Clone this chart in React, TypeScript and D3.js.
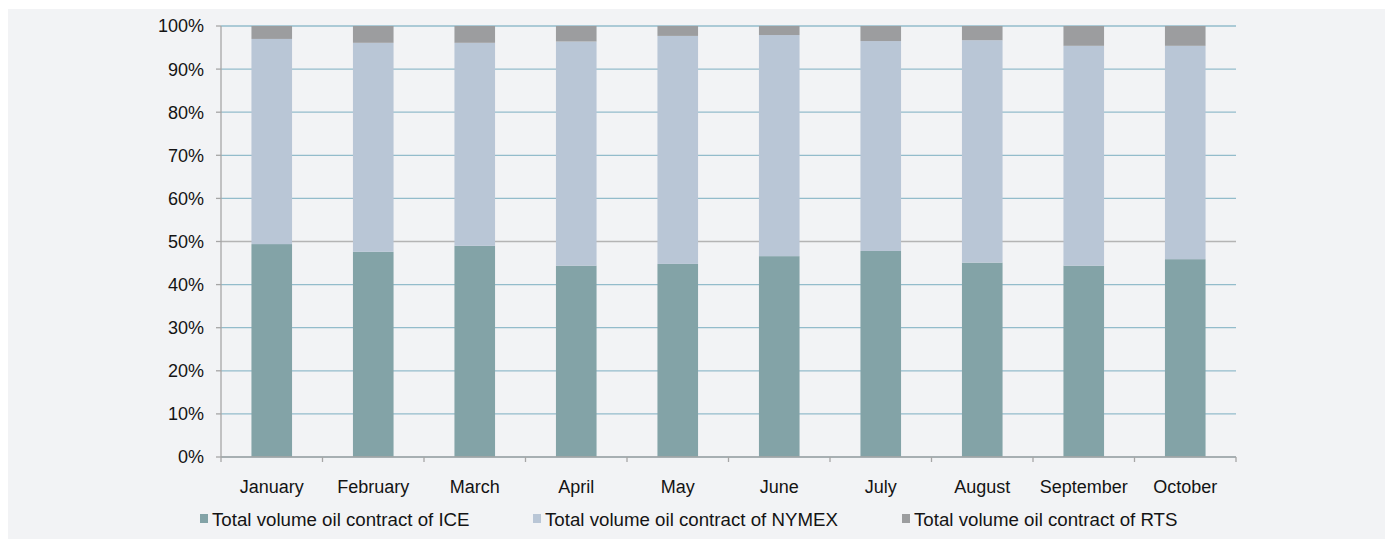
import React from "react";
import * as d3 from "d3";

const categories = ["January", "February", "March", "April", "May", "June", "July", "August", "September", "October"];
const iceValues = [49.4, 47.6, 49.0, 44.4, 44.8, 46.6, 47.8, 45.1, 44.4, 45.9];
const nymexValues = [47.6, 48.5, 47.1, 52.0, 52.9, 51.3, 48.7, 51.6, 51.0, 49.5];
const rtsValues = [3.0, 3.9, 3.9, 3.6, 2.3, 2.1, 3.5, 3.3, 4.6, 4.6];
const yTicks = [0, 10, 20, 30, 40, 50, 60, 70, 80, 90, 100];
const seriesNames = [
  "Total volume oil contract of ICE",
  "Total volume oil contract of NYMEX",
  "Total volume oil contract of RTS",
];
const seriesColors = ["#83a3a7", "#b9c6d6", "#9c9d9f"];

const W = 1389;
const H = 539;
const left = 221;
const right = 1236;
const top = 26;
const bottom = 457;
const FONT = "'Liberation Sans', Arial, sans-serif";

export default function App() {
  const x = d3.scaleBand<string>().domain(categories).range([left, right]).padding(0);
  const y = d3.scaleLinear().domain([0, 100]).range([bottom, top]);
  const barW = x.bandwidth() * 0.4;

  const rows = categories.map((c, i) => ({ c, ice: iceValues[i], nymex: nymexValues[i], rts: rtsValues[i] }));
  const stack = d3.stack<any>().keys(["ice", "nymex", "rts"]);
  const stacked = stack(rows);

  const legendX = [200, 533, 902];

  return (
    <div style={{ position: "absolute", left: 0, top: 0 }}>
      <svg width={W} height={H} style={{ display: "block" }}>
        <rect x={0} y={0} width={W} height={H} fill="#ffffff" />
        <rect x={8} y={9} width={1377} height={530} fill="#f2f3f5" />
        {yTicks.map((t) => (
          <line
            key={"g" + t}
            x1={left}
            x2={right}
            y1={y(t)}
            y2={y(t)}
            stroke={t === 50 ? "#b4b4b4" : "#93bccb"}
            strokeWidth={1.3}
          />
        ))}
        {stacked.map((s, si) =>
          s.map((d, i) => (
            <rect
              key={si + "-" + i}
              x={(x(categories[i]) as number) + (x.bandwidth() - barW) / 2}
              y={y(Math.min(d[1], 100))}
              width={barW}
              height={y(d[0]) - y(Math.min(d[1], 100))}
              fill={seriesColors[si]}
            />
          ))
        )}
        {/* left axis */}
        <line x1={left} x2={left} y1={top} y2={bottom} stroke="#a6a6a6" strokeWidth={1.3} />
        {yTicks.map((t) => (
          <g key={"yt" + t}>
            <line x1={left - 5} x2={left} y1={y(t)} y2={y(t)} stroke="#a6a6a6" strokeWidth={1.3} />
            <text
              x={204}
              y={y(t)}
              dy="0.36em"
              textAnchor="end"
              fontFamily={FONT}
              fontSize={18}
              fill="#141414"
            >
              {t + "%"}
            </text>
          </g>
        ))}
        {/* bottom axis */}
        <line x1={left} x2={right} y1={bottom} y2={bottom} stroke="#a6a6a6" strokeWidth={1.3} />
        {categories.concat(["__end"]).map((c, i) => {
          const xx = i < categories.length ? (x(c) as number) : right;
          return <line key={"xt" + i} x1={xx} x2={xx} y1={bottom} y2={bottom + 5} stroke="#a6a6a6" strokeWidth={1.3} />;
        })}
        {categories.map((c) => (
          <text
            key={"xl" + c}
            x={(x(c) as number) + x.bandwidth() / 2}
            y={493}
            textAnchor="middle"
            fontFamily={FONT}
            fontSize={18}
            fill="#141414"
          >
            {c}
          </text>
        ))}
        {/* legend */}
        {seriesNames.map((n, i) => (
          <g key={"lg" + i}>
            <rect x={legendX[i]} y={514} width={8} height={9} fill={seriesColors[i]} />
            <text x={legendX[i] + 12} y={526} fontFamily={FONT} fontSize={18.7} fill="#141414">
              {n}
            </text>
          </g>
        ))}
      </svg>
    </div>
  );
}
